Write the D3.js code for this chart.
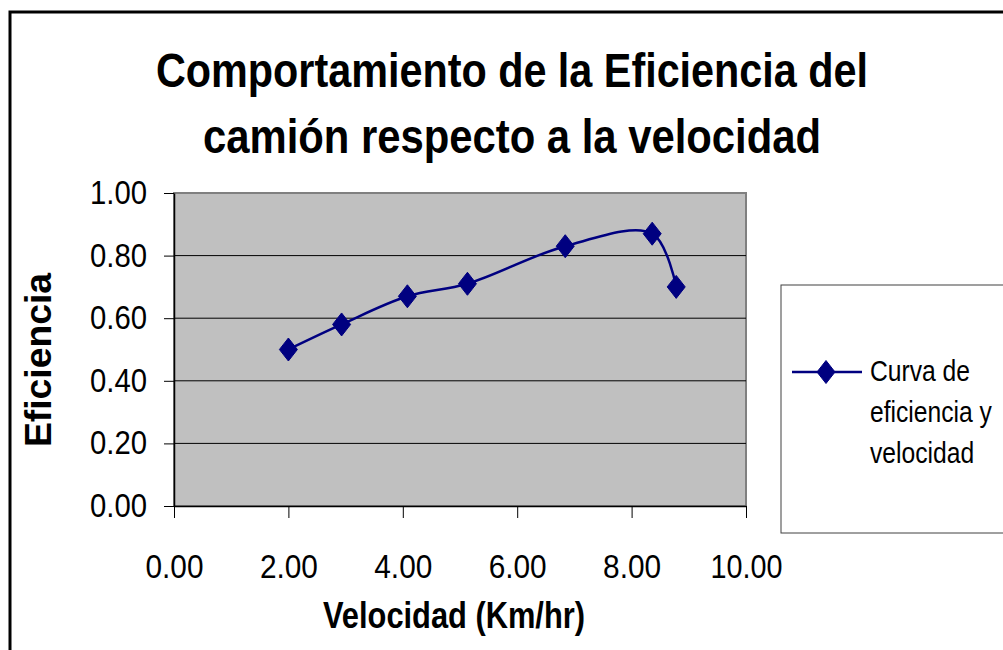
<!DOCTYPE html>
<html>
<head>
<meta charset="utf-8">
<script src="https://cdn.jsdelivr.net/npm/d3@7"></script>
<style>
  html, body { margin: 0; padding: 0; background: #fff; }
  svg { display: block; font-family: "Liberation Sans", Arial, sans-serif; }
</style>
</head>
<body>
<svg id="chart" width="1003" height="650"></svg>
<script>
// Truck efficiency measured against speed
const velocidad = [2.00, 2.93, 4.08, 5.13, 6.84, 8.36, 8.78];
const eficiencia = [0.50, 0.58, 0.67, 0.71, 0.83, 0.87, 0.70];
const xTicks = [0, 2, 4, 6, 8, 10];
const yTicks = [0, 0.2, 0.4, 0.6, 0.8, 1.0];
const titleLines = ["Comportamiento de la Eficiencia del", "camión respecto a la velocidad"];
const legendLines = ["Curva de", "eficiencia y", "velocidad"];

const svg = d3.select("#chart");
const plot = { left: 174, right: 746, top: 193, bottom: 506 };
const navy = "#000080";

// Outer chart frame (right and bottom edges run past the view)
svg.append("rect")
  .attr("x", 10).attr("y", 12)
  .attr("width", 1100).attr("height", 800)
  .attr("fill", "#fff").attr("stroke", "#000").attr("stroke-width", 3);

// Title
const titleWidths = [712, 618];
svg.append("g").selectAll("text").data(titleLines).join("text")
  .attr("x", 512)
  .attr("y", (d, i) => 87 + i * 66)
  .attr("text-anchor", "middle")
  .attr("font-size", 49).attr("font-weight", "bold")
  .attr("textLength", (d, i) => titleWidths[i])
  .attr("lengthAdjust", "spacingAndGlyphs")
  .text(d => d);

const x = d3.scaleLinear().domain([0, 10]).range([plot.left, plot.right]);
const y = d3.scaleLinear().domain([0, 1]).range([plot.bottom, plot.top]);

// Plot area
svg.append("rect")
  .attr("x", plot.left).attr("y", plot.top)
  .attr("width", plot.right - plot.left).attr("height", plot.bottom - plot.top)
  .attr("fill", "#c0c0c0").attr("stroke", "#808080").attr("stroke-width", 2);

// Horizontal gridlines
svg.append("g").selectAll("line").data(yTicks.filter(t => t > 0 && t < 1)).join("line")
  .attr("x1", plot.left).attr("x2", plot.right)
  .attr("y1", d => y(d)).attr("y2", d => y(d))
  .attr("stroke", "#000").attr("stroke-width", 1);

// Y axis
const yAxis = svg.append("g")
  .attr("transform", `translate(${plot.left},0)`)
  .call(d3.axisLeft(y).tickValues(yTicks).tickFormat(d3.format(".2f"))
    .tickSize(10).tickSizeOuter(0).tickPadding(17));
yAxis.select(".domain").attr("stroke", "#000").attr("stroke-width", 1.5);
yAxis.selectAll(".tick line").attr("stroke", "#000");
yAxis.selectAll("text")
  .attr("font-size", 33).attr("fill", "#000")
  .attr("font-family", "Liberation Sans, Arial, sans-serif")
  .attr("textLength", 57).attr("lengthAdjust", "spacingAndGlyphs");

// X axis
const xAxis = svg.append("g")
  .attr("transform", `translate(0,${plot.bottom})`)
  .call(d3.axisBottom(x).tickValues(xTicks).tickFormat(d3.format(".2f"))
    .tickSize(12).tickSizeOuter(0).tickPadding(37));
xAxis.select(".domain").attr("stroke", "#000").attr("stroke-width", 1.5);
xAxis.selectAll(".tick line").attr("stroke", "#000");
xAxis.selectAll("text")
  .attr("font-size", 33).attr("fill", "#000")
  .attr("font-family", "Liberation Sans, Arial, sans-serif")
  .attr("textLength", d => d >= 10 ? 72 : 58).attr("lengthAdjust", "spacingAndGlyphs");

// Axis titles
svg.append("text")
  .attr("x", 454).attr("y", 628)
  .attr("text-anchor", "middle")
  .attr("font-size", 36).attr("font-weight", "bold")
  .attr("textLength", 262).attr("lengthAdjust", "spacingAndGlyphs")
  .text("Velocidad (Km/hr)");

svg.append("text")
  .attr("transform", "translate(51,360) rotate(-90)")
  .attr("text-anchor", "middle")
  .attr("font-size", 36).attr("font-weight", "bold")
  .attr("textLength", 174).attr("lengthAdjust", "spacingAndGlyphs")
  .text("Eficiencia");

// Series: smoothed line with diamond markers
const pts = velocidad.map((v, i) => [v, eficiencia[i]]);
const line = d3.line()
  .x(d => x(d[0])).y(d => y(d[1]))
  .curve(d3.curveCatmullRom.alpha(0.5));
svg.append("path")
  .datum(pts)
  .attr("d", line)
  .attr("fill", "none").attr("stroke", navy).attr("stroke-width", 2.5);

const diamond = (cx, cy) => `M${cx},${cy - 11.5}L${cx + 9},${cy}L${cx},${cy + 11.5}L${cx - 9},${cy}Z`;
svg.append("g").selectAll("path").data(pts).join("path")
  .attr("d", d => diamond(x(d[0]), y(d[1])))
  .attr("fill", navy).attr("stroke", navy).attr("stroke-width", 1);

// Legend
const lg = svg.append("g");
lg.append("rect")
  .attr("x", 781).attr("y", 285).attr("width", 300).attr("height", 248)
  .attr("fill", "#fff").attr("stroke", "#404040").attr("stroke-width", 1);
lg.append("line")
  .attr("x1", 792).attr("x2", 862).attr("y1", 372).attr("y2", 372)
  .attr("stroke", navy).attr("stroke-width", 2.5);
lg.append("path").attr("d", diamond(826, 372)).attr("fill", navy).attr("stroke", navy);
// Narrow legend labels: horizontally condensed, anchored at the label column
lg.selectAll("text.lbl").data(legendLines).join("text")
  .attr("class", "lbl")
  .attr("transform", (d, i) => `translate(870,${381 + i * 41}) scale(0.85,1)`)
  .attr("font-size", 29)
  .text(d => d);
</script>
</body>
</html>
